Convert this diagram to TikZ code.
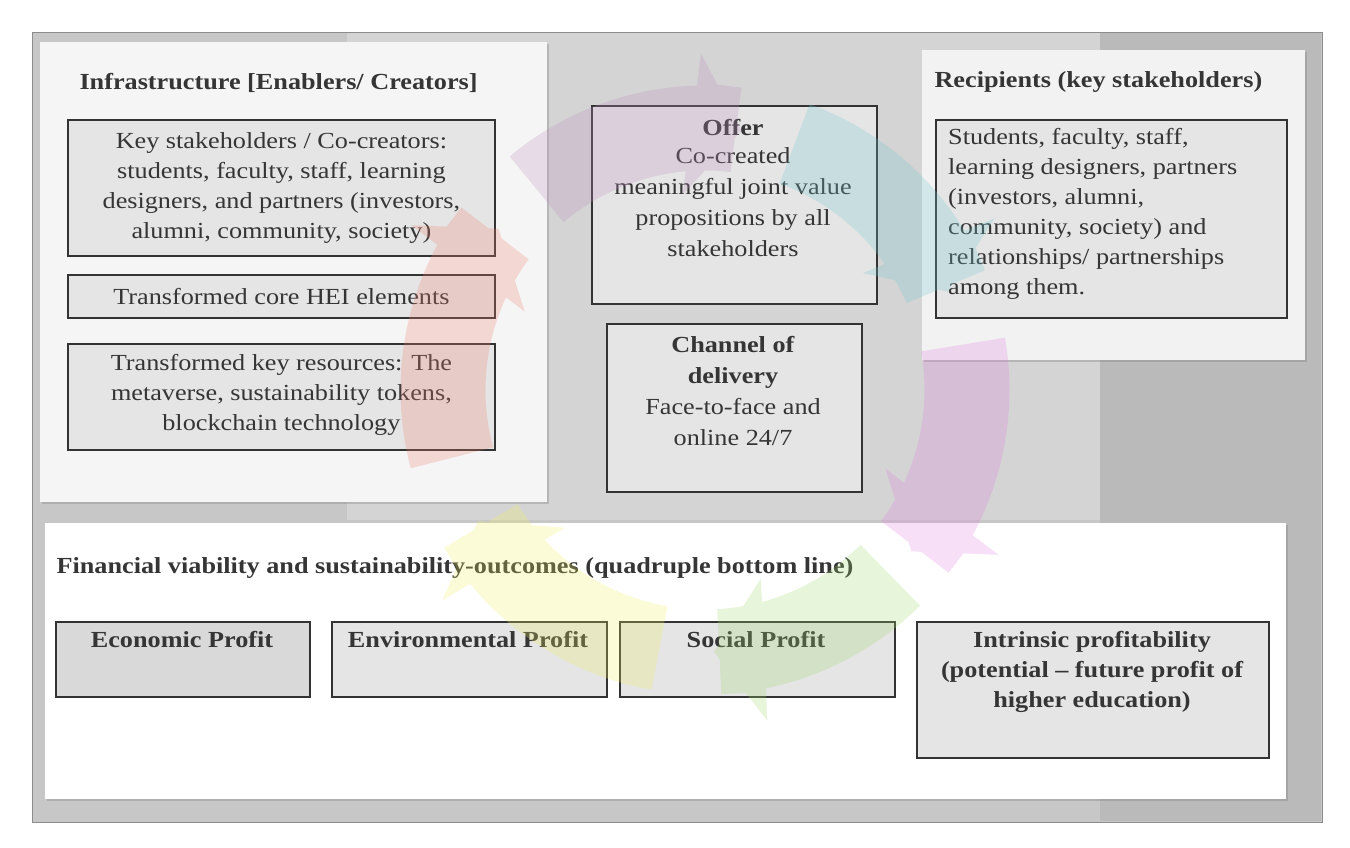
\documentclass[tikz,border=0pt]{standalone}
\usepackage{fontspec}
\setmainfont{Liberation Serif}[FakeStretch=1.14]
\usetikzlibrary{arrows.meta,shadows}
\definecolor{txt}{HTML}{353535}
\tikzset{
  panel/.style={draw=none,drop shadow={shadow xshift=2pt,shadow yshift=-2pt,opacity=0.35}},
  tbox/.style={draw=black!80,line width=1.8pt,fill=black!10,text=txt,align=center},
  ttl/.style={anchor=west,text=txt,font=\fontsize{23}{27}\selectfont\bfseries},
  seg/.style={line width=85pt,-{Triangle[width=140pt,length=50pt]}},
}
\begin{document}
\begin{tikzpicture}[x=1pt,y=-1pt,font=\fontsize{23}{30}\selectfont]
\useasboundingbox (0,0) rectangle (1350,848);
\fill[white] (0,0) rectangle (1350,848);
% background
\fill[black!22,draw=black!45] (32,32) rectangle (1322,822);
\fill[black!17] (347,33) rectangle (1100,520);
\fill[black!27] (1100,33) rectangle (1321,821);
% panels
\node[panel,fill=black!4,minimum width=507pt,minimum height=460pt,anchor=north west] (left) at (40,42) {};
\node[panel,fill=black!5,minimum width=383pt,minimum height=310pt,anchor=north west] (right) at (922,50) {};
\node[panel,fill=white,minimum width=1241pt,minimum height=276pt,anchor=north west] (bot) at (45,523) {};
% left
\node[ttl] (t1) at (76,83) {Infrastructure [Enablers/ Creators]};
\node[tbox,minimum width=427pt,minimum height=136pt,anchor=north west] (b1) at (67,119) {Key stakeholders / Co-creators:\\students, faculty, staff, learning\\designers, and partners (investors,\\alumni, community, society)};
\node[tbox,minimum width=427pt,minimum height=43pt,anchor=north west] (b2) at (67,274) {Transformed core HEI elements};
\node[tbox,minimum width=427pt,minimum height=106pt,anchor=north west,text depth=8pt] (b3) at (67,343) {Transformed key resources: The\\metaverse, sustainability tokens,\\blockchain technology};
% center
\node[tbox,minimum width=285pt,minimum height=198pt,anchor=north west] (offer) at (591,105) {};
\node[anchor=north,text=txt,align=center,font=\fontsize{23}{31}\selectfont] (offt) at (733,116) {\textbf{Offer}\\[-3pt]Co-created\\meaningful joint value\\propositions by all\\stakeholders};
\node[tbox,minimum width=255pt,minimum height=168pt,anchor=north west] (chan) at (606,323) {};
\node[anchor=north,text=txt,align=center,font=\fontsize{23}{31}\selectfont] (chant) at (733,333) {\textbf{Channel of}\\\textbf{delivery}\\Face-to-face and\\online 24/7};
% right
\node[ttl] (t2) at (931,82) {Recipients (key stakeholders)};
\node[tbox,minimum width=351pt,minimum height=198pt,anchor=north west] (rb) at (935,119) {};
\node[anchor=north west,text=txt,align=left,inner sep=0pt] (rbt) at (948,128) {Students, faculty, staff,\\learning designers, partners\\(investors, alumni,\\community, society) and\\relationships/ partnerships\\among them.};
% bottom
\node[ttl] (t3) at (53,568) {Financial viability and sustainability-outcomes (quadruple bottom line)};
\node[tbox,fill=black!15,minimum width=254pt,minimum height=75pt,anchor=north west] (e1) at (55,621) {};
\node[anchor=north,text=txt,font=\fontsize{23}{30}\selectfont\bfseries] at (182,628) {Economic Profit};
\node[tbox,minimum width=275pt,minimum height=75pt,anchor=north west] (e2) at (331,621) {};
\node[anchor=north,text=txt,font=\fontsize{23}{30}\selectfont\bfseries] at (468,628) {Environmental Profit};
\node[tbox,minimum width=275pt,minimum height=75pt,anchor=north west] (e3) at (619,621) {};
\node[anchor=north,text=txt,font=\fontsize{23}{30}\selectfont\bfseries] at (756,628) {Social Profit};
\node[tbox,minimum width=352pt,minimum height=136pt,anchor=north west] (e4) at (916,621) {};
\node[anchor=north,text=txt,align=center,font=\fontsize{23}{30}\selectfont\bfseries] at (1092,628) {Intrinsic profitability\\(potential -- future profit of\\higher education)};
% cycle arrows
\foreach \a/\b/\c in {100/150/F2F060,165/218/F08070,230/278/C090C0,290/338/70C8D0,350/398/E080E0,45/88/A0D870}{
  \definecolor{cc}{HTML}{\c}
  \begin{scope}[transparency group,opacity=0.25]
  \draw[seg,cc] plot[domain=\a:\b,samples=30,smooth] ({705+262*cos(\x)},{390+262*sin(\x)});
  \end{scope}
}
\end{tikzpicture}
\end{document}
